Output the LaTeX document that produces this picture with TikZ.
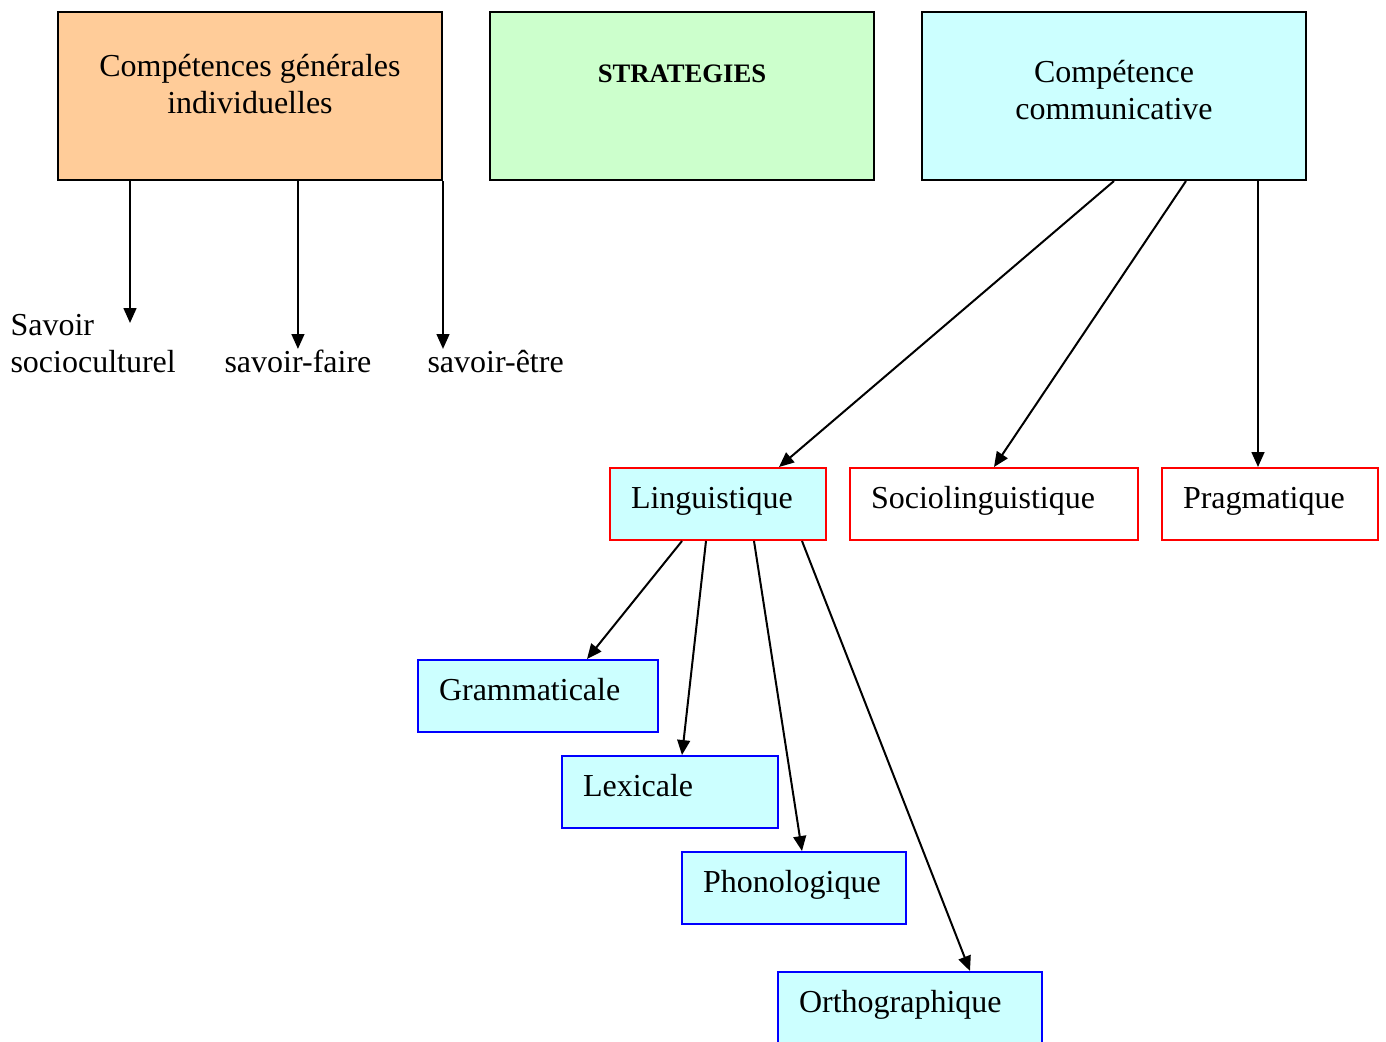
\documentclass[tikz,border=0pt]{standalone}
\usepackage{fontspec}
\setmainfont{Liberation Serif}
\usetikzlibrary{calc,arrows.meta}
\definecolor{orangec}{HTML}{FFCC99}
\definecolor{greenc}{HTML}{CCFFCC}
\definecolor{cyanc}{HTML}{CCFFFF}
\colorlet{redline}{red}
\colorlet{blueline}{blue}
\tikzstyle{bigbox} = [
    draw=black,
    line width=0.75pt,
    rectangle,
    inner sep=0pt,
    anchor=north west
    ]
\tikzstyle{subbox} = [
    rectangle,
    line width=0.75pt,
    inner xsep=7.875pt,
    inner ysep=0pt,
    text height=15pt,
    text depth=12pt,
    align=left,
    anchor=north west
    ]
\tikzstyle{lvlone} = [subbox, draw=redline]
\tikzstyle{lvltwo} = [subbox, draw=blueline, fill=cyanc]
\tikzstyle{plain} = [inner sep=0pt, anchor=base west]
\tikzstyle{arr} = [line width=0.75pt, -{Triangle[length=5.6pt,width=4.8pt]}]

\begin{document}
\begin{tikzpicture}[x=0.375pt, y=-0.375pt, font=\fontsize{12pt}{13.875pt}\selectfont]
\useasboundingbox (0,0) rectangle (1386,1041);

% top row
\node [bigbox, fill=orangec] (cgi) at (57,11) {%
    \begin{minipage}[t][63pt][t]{144pt}\centering
    \rule{0pt}{24pt}Compétences générales\\individuelles
    \end{minipage}};
\node [bigbox, fill=greenc] (strat) at (489,11) {%
    \begin{minipage}[t][63pt][t]{144pt}\centering
    \fontsize{10pt}{12pt}\selectfont\rule{0pt}{26.6pt}\textbf{STRATEGIES}
    \end{minipage}};
\node [bigbox, fill=cyanc] (cc) at (921,11) {%
    \begin{minipage}[t][63pt][t]{144pt}\centering
    \rule{0pt}{26.6pt}Compétence\\communicative
    \end{minipage}};

% savoirs
\node [plain, align=left] (ssc) at (10,372) {Savoir\\socioculturel};
\node [plain] (sf) at (224,372) {savoir-faire};
\node [plain] (se) at (427,372) {savoir-être};
\coordinate (sscend) at (130,323);

% competence communicative
\node [lvlone, fill=cyanc, text width=65.25pt] (ling) at (609,467) {Linguistique};
\node [lvlone, fill=white, text width=92.25pt] (socio) at (849,467) {Sociolinguistique};
\node [lvlone, fill=white, text width=65.25pt] (prag) at (1161,467) {Pragmatique};

% linguistique
\node [lvltwo, text width=74.25pt] (gram) at (417,659) {Grammaticale};
\node [lvltwo, text width=65.25pt] (lex) at (561,755) {Lexicale};
\node [lvltwo, text width=68.25pt] (phon) at (681,851) {Phonologique};
\node [lvltwo, text width=83.25pt] (orth) at (777,971) {Orthographique};

\draw [arr] (cgi.south -| sscend) -- (sscend);
\draw [arr] (cgi.south -| sf.north) -- (sf.north);
\draw [arr] (cgi.south east) -- (cgi.south east |- sf.north);

\draw [arr] (cc.south) -- ($(ling.north west)+(170,0)$);
\draw [arr] ($(cc.south west)+(265,0)$) -- (socio.north);
\draw [arr] ($(cc.south west)+(337,0)$) -- ($(prag.north west)+(97,0)$);

\draw [arr] ($(ling.south west)+(73,0)$) -- ($(gram.north west)+(170,0)$);
\draw [arr] ($(ling.south west)+(97,0)$) -- ($(lex.north west)+(121,0)$);
\draw [arr] ($(ling.south west)+(145,0)$) -- ($(phon.north west)+(121,0)$);
\draw [arr] ($(ling.south west)+(193,0)$) -- ($(orth.north west)+(193,0)$);
\end{tikzpicture}
\end{document}
